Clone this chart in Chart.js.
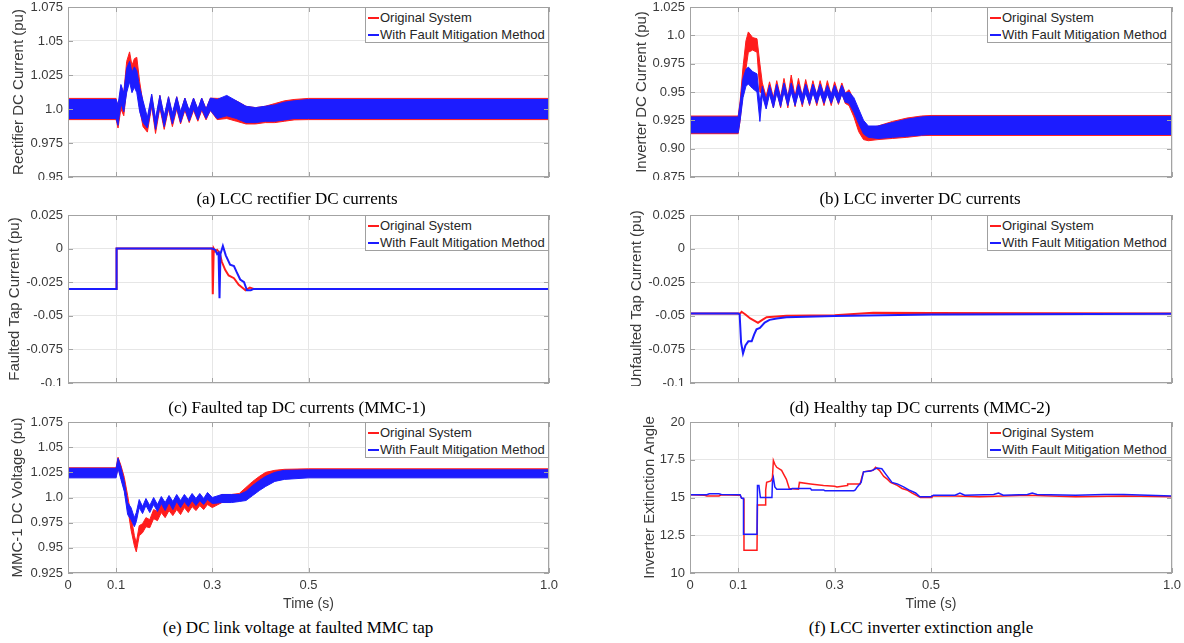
<!DOCTYPE html>
<html>
<head>
<meta charset="utf-8">
<script src="https://cdn.jsdelivr.net/npm/chart.js@4.4.1/dist/chart.umd.min.js"></script>
<style>
  body { margin: 0; background: #fff; width: 1184px; height: 643px; overflow: hidden; position: relative; }
  .chart { position: absolute; }
  .cap { position: absolute; text-align: center; font-family: 'Liberation Serif', 'Times New Roman', serif; font-size: 17px; line-height: 20px; color: #000; }
  .legend { position: absolute; box-sizing: border-box; height: 36px; border: 1px solid #a0a0a0; background: #fff;
            font-family: 'Liberation Sans', Arial, sans-serif; font-size: 13px; color: #262626; padding-top: 1px; z-index: 2; }
  .legend div { height: 17px; line-height: 17px; white-space: nowrap; }
  .legend span { display: inline-block; width: 11px; height: 2px; vertical-align: middle; margin: 0 1px 2px 2px; }
</style>
</head>
<body>
<div class="chart" style="left:0px;top:0px"><canvas id="chartA" width="562" height="180"></canvas></div>
<div class="chart" style="left:622px;top:0px"><canvas id="chartB" width="562" height="180"></canvas></div>
<div class="chart" style="left:0px;top:208px"><canvas id="chartC" width="562" height="178"></canvas></div>
<div class="chart" style="left:622px;top:208px"><canvas id="chartD" width="562" height="178"></canvas></div>
<div class="chart" style="left:0px;top:415px"><canvas id="chartE" width="562" height="202"></canvas></div>
<div class="chart" style="left:622px;top:415px"><canvas id="chartF" width="562" height="202"></canvas></div>

<div class="cap" style="left:57px;top:189px;width:480px">(a) LCC rectifier DC currents</div>
<div class="cap" style="left:680px;top:189px;width:480px">(b) LCC inverter DC currents</div>
<div class="cap" style="left:57px;top:398px;width:480px">(c) Faulted tap DC currents (MMC-1)</div>
<div class="cap" style="left:680px;top:398px;width:480px">(d) Healthy tap DC currents (MMC-2)</div>
<div class="cap" style="left:58px;top:618px;width:480px">(e) DC link voltage at faulted MMC tap</div>
<div class="cap" style="left:681px;top:618px;width:480px">(f) LCC inverter extinction angle</div>

<script>
const seriesNames = ['Original System', 'With Fault Mitigation Method'];
const xTicks = [0, 0.1, 0.3, 0.5, 1.0];
const xTickLabels = ['0', '0.1', '0.3', '0.5', '1.0'];

// (a) rectifier DC current, ripple band read as upper / lower edge
const yTicksA = [0.95, 0.975, 1.0, 1.025, 1.05, 1.075];
const yLabelsA = ['0.95', '0.975', '1.0', '1.025', '1.05', '1.075'];
const tA = [0, 0.1, 0.104, 0.11, 0.116, 0.122, 0.128, 0.133, 0.138, 0.143,
  0.149, 0.156, 0.165, 0.174, 0.182, 0.191, 0.2, 0.209, 0.217, 0.226,
  0.234, 0.243, 0.252, 0.261, 0.27, 0.278, 0.287, 0.296, 0.31, 0.33,
  0.35, 0.37, 0.39, 0.41, 0.43, 0.45, 0.47, 0.5, 1.0];
const aRedHi = [1.0078, 1.0078, 1.0, 1.015, 1.012, 1.035, 1.042, 1.032, 1.037, 1.038,
  1.02, 1.004, 0.991, 1.01, 0.99, 1.01, 0.993, 1.009, 0.995, 1.009,
  0.997, 1.008, 0.998, 1.008, 0.999, 1.008, 1.0, 1.008, 1.0078, 1.008,
  1.006, 1.002, 1.001, 1.002, 1.004, 1.006, 1.007, 1.0078, 1.0078];
const aRedLo = [0.9922, 0.9922, 0.986, 1.0, 0.995, 1.015, 1.025, 1.015, 1.018, 1.02,
  1.0, 0.987, 0.983, 1.002, 0.982, 1.001, 0.985, 1.0, 0.987, 1.0,
  0.989, 0.999, 0.99, 0.999, 0.991, 0.999, 0.992, 0.999, 0.9922, 0.993,
  0.991, 0.989, 0.989, 0.99, 0.99, 0.991, 0.992, 0.9922, 0.9922];
const aBlueHi = [1.007, 1.007, 1.003, 1.018, 1.012, 1.03, 1.035, 1.027, 1.031, 1.028,
  1.016, 1.006, 0.994, 1.011, 0.993, 1.010, 0.995, 1.009, 0.997, 1.009,
  0.998, 1.008, 0.999, 1.008, 1.0, 1.008, 1.0, 1.008, 1.007, 1.01,
  1.006, 1.002, 1.001, 1.002, 1.003, 1.005, 1.006, 1.007, 1.007];
const aBlueLo = [0.993, 0.993, 0.988, 1.004, 0.998, 1.012, 1.02, 1.012, 1.016, 1.012,
  0.998, 0.99, 0.986, 1.003, 0.985, 1.002, 0.987, 1.001, 0.989, 1.001,
  0.99, 1.0, 0.991, 1.0, 0.992, 1.0, 0.993, 0.999, 0.993, 0.995,
  0.993, 0.99, 0.99, 0.991, 0.991, 0.992, 0.993, 0.993, 0.993];

// (b) inverter DC current
const yTicksB = [0.875, 0.9, 0.925, 0.95, 0.975, 1.0, 1.025];
const yLabelsB = ['0.875', '0.90', '0.925', '0.95', '0.975', '1.0', '1.025'];
const tB = [0, 0.1, 0.104, 0.11, 0.116, 0.121, 0.13, 0.139, 0.145,
  0.15, 0.158, 0.165, 0.173, 0.18, 0.188, 0.195, 0.203, 0.21, 0.218, 0.225, 0.233,
  0.24, 0.248, 0.255, 0.263, 0.27, 0.278, 0.285, 0.293, 0.3, 0.308, 0.315, 0.322,
  0.33, 0.34, 0.35, 0.36, 0.37, 0.39, 0.42, 0.45, 0.48, 0.5, 1.0];
const bRedHi = [0.9288, 0.9288, 0.942, 0.972, 0.995, 1.003, 0.998, 0.997, 0.975,
  0.958, 0.946, 0.959, 0.945, 0.96, 0.945, 0.962, 0.945, 0.965, 0.946, 0.962, 0.946,
  0.961, 0.947, 0.96, 0.947, 0.96, 0.947, 0.96, 0.947, 0.959, 0.948, 0.958, 0.949,
  0.952, 0.943, 0.932, 0.92, 0.918, 0.92, 0.924, 0.927, 0.9288, 0.9293, 0.9293];
const bRedLo = [0.9132, 0.9132, 0.925, 0.95, 0.97, 0.985, 0.987, 0.985, 0.95,
  0.949, 0.937, 0.95, 0.936, 0.951, 0.936, 0.953, 0.936, 0.956, 0.937, 0.953, 0.937,
  0.952, 0.938, 0.951, 0.938, 0.951, 0.938, 0.951, 0.938, 0.95, 0.939, 0.949, 0.94,
  0.938, 0.928, 0.915, 0.908, 0.907, 0.908, 0.909, 0.91, 0.9115, 0.9117, 0.9117];
const bBlueHi = [0.928, 0.928, 0.94, 0.962, 0.97, 0.972, 0.968, 0.966, 0.94,
  0.955, 0.943, 0.956, 0.944, 0.957, 0.945, 0.958, 0.946, 0.958, 0.946, 0.957, 0.947,
  0.957, 0.947, 0.957, 0.948, 0.957, 0.948, 0.956, 0.948, 0.956, 0.948, 0.956, 0.949,
  0.95, 0.945, 0.935, 0.925, 0.92, 0.92, 0.923, 0.926, 0.928, 0.9285, 0.9285];
const bBlueLo = [0.914, 0.914, 0.925, 0.945, 0.955, 0.957, 0.953, 0.95, 0.924,
  0.947, 0.935, 0.948, 0.936, 0.949, 0.937, 0.95, 0.938, 0.95, 0.938, 0.949, 0.939,
  0.949, 0.939, 0.949, 0.94, 0.949, 0.94, 0.948, 0.94, 0.948, 0.94, 0.948, 0.941,
  0.94, 0.932, 0.922, 0.913, 0.91, 0.909, 0.91, 0.911, 0.912, 0.9125, 0.9125];

// (c) faulted tap current
const yTicksCD = [-0.1, -0.075, -0.05, -0.025, 0, 0.025];
const yLabelsCD = ['-0.1', '-0.075', '-0.05', '-0.025', '0', '0.025'];
const cRedT = [0, 0.1, 0.101, 0.3, 0.301, 0.303, 0.306, 0.31, 0.315, 0.32, 0.327, 0.334, 0.345, 0.355, 0.362, 0.369, 0.378, 0.386, 0.4, 1.0];
const cRedV = [-0.030, -0.030, 0, 0, -0.034, 0, -0.002, -0.001, -0.003, -0.010, -0.016, -0.020, -0.022, -0.027, -0.029, -0.031, -0.029, -0.030, -0.030, -0.030];
const cBlueT = [0, 0.1, 0.101, 0.3, 0.306, 0.31, 0.313, 0.315, 0.317, 0.322, 0.328, 0.337, 0.345, 0.35, 0.358, 0.366, 0.372, 0.38, 0.386, 0.4, 1.0];
const cBlueV = [-0.030, -0.030, 0, 0, -0.001, -0.004, -0.003, -0.037, -0.004, 0.002, -0.005, -0.012, -0.013, -0.017, -0.023, -0.025, -0.031, -0.031, -0.030, -0.030, -0.030];

// (d) unfaulted tap current
const dRedT = [0, 0.1, 0.104, 0.107, 0.115, 0.125, 0.135, 0.141, 0.15, 0.159, 0.18, 0.2, 0.3, 0.38, 0.5, 1.0];
const dRedV = [-0.0483, -0.0483, -0.0483, -0.047, -0.049, -0.052, -0.054, -0.0552, -0.053, -0.051, -0.0505, -0.05, -0.0495, -0.0478, -0.048, -0.0482];
const dBlueT = [0, 0.1, 0.103, 0.106, 0.11, 0.115, 0.121, 0.128, 0.133, 0.138, 0.145, 0.155, 0.165, 0.18, 0.2, 0.3, 0.5, 1.0];
const dBlueV = [-0.0483, -0.0483, -0.049, -0.07, -0.078, -0.072, -0.069, -0.069, -0.064, -0.06, -0.059, -0.055, -0.053, -0.052, -0.051, -0.0502, -0.049, -0.0485];

// (e) MMC-1 DC voltage
const yTicksE = [0.925, 0.95, 0.975, 1.0, 1.025, 1.05, 1.075];
const yLabelsE = ['0.925', '0.95', '0.975', '1.0', '1.025', '1.05', '1.075'];
const tE = [0, 0.1, 0.104, 0.11, 0.117, 0.124, 0.131, 0.138, 0.142,
  0.148, 0.155, 0.162, 0.17, 0.178, 0.186, 0.194, 0.202, 0.21, 0.218,
  0.226, 0.234, 0.242, 0.25, 0.258, 0.266, 0.274, 0.282, 0.29, 0.3,
  0.32, 0.34, 0.356, 0.37, 0.384, 0.398, 0.411, 0.43, 0.45, 0.5, 1.0];
const eRedHi = [1.0295, 1.0295, 1.04, 1.032, 1.02, 1.002, 0.982, 0.962, 0.955,
  0.972, 0.974, 0.98, 0.978, 0.988, 0.986, 0.994, 0.989, 0.996, 0.99,
  0.997, 0.991, 0.998, 0.992, 0.999, 0.994, 1.0, 0.995, 1.001, 0.997,
  1.003, 1.003, 1.004, 1.01, 1.016, 1.021, 1.025, 1.027, 1.028, 1.0285, 1.0285];
const eRedLo = [1.0205, 1.0205, 1.03, 1.02, 1.008, 0.99, 0.968, 0.952, 0.946,
  0.962, 0.965, 0.971, 0.97, 0.979, 0.977, 0.985, 0.98, 0.987, 0.982,
  0.988, 0.983, 0.99, 0.985, 0.991, 0.987, 0.992, 0.988, 0.993, 0.99,
  0.995, 0.996, 0.997, 1.0, 1.006, 1.011, 1.015, 1.018, 1.0195, 1.0205, 1.0205];
const eBlueHi = [1.029, 1.029, 1.039, 1.03, 1.016, 0.995, 0.99, 0.98, 0.985,
  0.998, 0.991, 0.999, 0.992, 1.0, 0.993, 1.001, 0.995, 1.002, 0.996,
  1.003, 0.997, 1.003, 0.998, 1.004, 0.999, 1.004, 0.999, 1.005, 1.0,
  1.003, 1.003, 1.003, 1.006, 1.012, 1.017, 1.021, 1.025, 1.027, 1.0275, 1.0275];
const eBlueLo = [1.0195, 1.0195, 1.029, 1.018, 1.006, 0.983, 0.978, 0.971, 0.976,
  0.99, 0.984, 0.992, 0.985, 0.993, 0.986, 0.994, 0.987, 0.995, 0.988,
  0.996, 0.99, 0.996, 0.991, 0.997, 0.992, 0.997, 0.993, 0.998, 0.994,
  0.995, 0.995, 0.996, 0.997, 1.002, 1.007, 1.011, 1.016, 1.018, 1.0195, 1.0195];

// (f) inverter extinction angle (deg)
const yTicksF = [10, 12.5, 15, 17.5, 20];
const yLabelsF = ['10', '12.5', '15', '17.5', '20'];
const fRedT = [0, 0.03, 0.035, 0.06, 0.065, 0.104, 0.107, 0.112, 0.112, 0.139, 0.14, 0.156, 0.157, 0.159, 0.168, 0.171,
  0.173, 0.176, 0.18, 0.19, 0.195, 0.2, 0.206, 0.225, 0.227, 0.25, 0.277, 0.3, 0.305, 0.326, 0.327, 0.353,
  0.357, 0.36, 0.38, 0.385, 0.393, 0.402, 0.41, 0.416, 0.43, 0.44, 0.45, 0.46, 0.478, 0.5, 0.502, 0.55,
  0.6, 0.65, 0.7, 0.75, 0.8, 0.9, 1.0];
const fRedV = [15.18, 15.15, 15.1, 15.1, 15.18, 15.15, 14.95, 14.9, 11.5, 11.5, 14.5, 14.5, 15.5, 16.0, 16.1, 16.3,
  17.45, 17.2, 17.0, 16.8, 16.5, 16.2, 15.6, 15.55, 16.0, 15.9, 15.8, 15.75, 15.7, 15.8, 15.9, 15.9,
  16.4, 16.7, 16.8, 17.0, 16.8, 16.4, 16.2, 16.0, 15.8, 15.6, 15.5, 15.3, 15.0, 15.0, 15.1, 15.1,
  15.05, 15.1, 15.15, 15.1, 15.05, 15.1, 15.05];
const fBlueT = [0, 0.035, 0.04, 0.06, 0.065, 0.104, 0.107, 0.111, 0.111, 0.139, 0.14, 0.143, 0.146, 0.17, 0.171, 0.173,
  0.176, 0.18, 0.21, 0.212, 0.25, 0.252, 0.277, 0.28, 0.34, 0.343, 0.347, 0.355, 0.36, 0.375, 0.388, 0.398,
  0.405, 0.412, 0.419, 0.43, 0.443, 0.454, 0.468, 0.477, 0.5, 0.505, 0.55, 0.56, 0.57, 0.63, 0.64, 0.65,
  0.7, 0.71, 0.72, 0.8, 0.86, 0.9, 0.95, 1.0];
const fBlueV = [15.18, 15.18, 15.25, 15.25, 15.2, 15.18, 14.95, 14.95, 12.56, 12.56, 15.8, 15.8, 15.0, 15.0, 16.0, 16.3,
  15.7, 15.55, 15.55, 15.6, 15.6, 15.5, 15.5, 15.45, 15.45, 15.5, 15.7, 16.0, 16.7, 16.75, 16.95, 16.9,
  16.6, 16.3, 16.0, 15.9, 15.7, 15.5, 15.3, 15.05, 15.05, 15.15, 15.15, 15.3, 15.15, 15.2, 15.3, 15.15,
  15.2, 15.3, 15.2, 15.15, 15.2, 15.2, 15.15, 15.1];

const red = '#ff1c1c';
const blue = '#1c1cff';
const textColor = '#3a3a3a';
const gridColor = '#e6e6e6';
const boxColor = '#a3a3a3';
const sansFont = "'Liberation Sans', Arial, Helvetica, sans-serif";

function pts(t, v) {
  return t.map((x, i) => ({ x: x, y: v[i] }));
}

// ripple bands: upper edge, then lower edge filled up to it; blue drawn over red
function bandSets(t, redHi, redLo, blueHi, blueLo) {
  const edge = (vals, color, fill) => ({
    data: pts(t, vals), borderColor: color, backgroundColor: color,
    borderWidth: 1, pointRadius: 0, fill: fill
  });
  return [edge(blueHi, blue, false), edge(blueLo, blue, '-1'),
          edge(redHi, red, false), edge(redLo, red, '-1')];
}

function lineSets(redT, redV, blueT, blueV, width) {
  return [
    { data: pts(blueT, blueV), borderColor: blue, borderWidth: width, pointRadius: 0, fill: false },
    { data: pts(redT, redV), borderColor: red, borderWidth: width, pointRadius: 0, fill: false }
  ];
}

// MATLAB style box with inward tick marks
const boxPlugin = {
  id: 'box',
  afterDraw(chart) {
    const ctx = chart.ctx;
    const a = chart.chartArea;
    const xs = chart.scales.x, ys = chart.scales.y;
    ctx.save();
    ctx.strokeStyle = boxColor;
    ctx.lineWidth = 1;
    ctx.strokeRect(a.left + 0.5, a.top + 0.5, a.right - a.left - 1, a.bottom - a.top - 1);
    ctx.beginPath();
    xs.ticks.forEach(t => {
      const px = Math.round(xs.getPixelForValue(t.value)) + 0.5;
      ctx.moveTo(px, a.top); ctx.lineTo(px, a.top + 5);
      ctx.moveTo(px, a.bottom); ctx.lineTo(px, a.bottom - 5);
    });
    ys.ticks.forEach(t => {
      const py = Math.round(ys.getPixelForValue(t.value)) + 0.5;
      ctx.moveTo(a.left, py); ctx.lineTo(a.left + 5, py);
      ctx.moveTo(a.right, py); ctx.lineTo(a.right - 5, py);
    });
    ctx.stroke();
    ctx.restore();
  }
};

function createPanel(id, datasets, yTicks, yLabels, yTitle, titlePad, showX, padRight) {
  const ctx = document.getElementById(id).getContext('2d');
  return new Chart(ctx, {
    type: 'line',
    data: { datasets: datasets },
    options: {
      responsive: false,
      animation: false,
      events: [],
      layout: { padding: { top: 7, right: padRight, left: 0, bottom: 0 } },
      plugins: { legend: { display: false }, tooltip: { enabled: false } },
      scales: {
        x: {
          type: 'linear', min: 0, max: 1,
          afterBuildTicks: s => { s.ticks = xTicks.map(v => ({ value: v })); },
          afterFit: s => { s.height = showX ? 44 : 3; s.paddingLeft = 0; s.paddingRight = 0; },
          grid: { color: gridColor, drawTicks: false },
          border: { display: false },
          ticks: {
            display: showX, padding: 5, color: textColor, autoSkip: false, maxRotation: 0,
            font: { family: sansFont, size: 13 },
            callback: (v, i) => xTickLabels[i]
          },
          title: {
            display: showX, text: 'Time (s)', color: textColor,
            font: { family: sansFont, size: 14 }, padding: { top: 4, bottom: 4 }
          }
        },
        y: {
          min: yTicks[0], max: yTicks[yTicks.length - 1],
          afterBuildTicks: s => { s.ticks = yTicks.map(v => ({ value: v })); },
          afterFit: s => { s.width = 68; s.paddingTop = 0; s.paddingBottom = 0; },
          grid: { color: gridColor, drawTicks: false },
          border: { display: false },
          ticks: {
            padding: 5, color: textColor, autoSkip: false,
            font: { family: sansFont, size: 13 },
            callback: (v, i) => yLabels[i]
          },
          title: {
            display: true, text: yTitle, color: textColor,
            font: { family: sansFont, size: 15 }, padding: { top: titlePad, bottom: 0 }
          }
        }
      }
    },
    plugins: [boxPlugin]
  });
}

function addLegend(left, top, width) {
  const box = document.createElement('div');
  box.className = 'legend';
  box.style.left = left + 'px';
  box.style.top = top + 'px';
  box.style.width = width + 'px';
  [red, blue].forEach((c, i) => {
    const row = document.createElement('div');
    const mark = document.createElement('span');
    mark.style.backgroundColor = c;
    row.appendChild(mark);
    row.appendChild(document.createTextNode(seriesNames[i]));
    box.appendChild(row);
  });
  document.body.appendChild(box);
}

createPanel('chartA', bandSets(tA, aRedHi, aRedLo, aBlueHi, aBlueLo), yTicksA, yLabelsA,
  'Rectifier DC Current (pu)', 10, false, 13);
createPanel('chartB', bandSets(tB, bRedHi, bRedLo, bBlueHi, bBlueLo), yTicksB, yLabelsB,
  'Inverter DC Current (pu)', 11, false, 12);
createPanel('chartC', lineSets(cRedT, cRedV, cBlueT, cBlueV, 2), yTicksCD, yLabelsCD,
  'Faulted Tap Current (pu)', 6, false, 13);
createPanel('chartD', lineSets(dRedT, dRedV, dBlueT, dBlueV, 2), yTicksCD, yLabelsCD,
  'Unfaulted Tap Current (pu)', 6, false, 12);
createPanel('chartE', bandSets(tE, eRedHi, eRedLo, eBlueHi, eBlueLo), yTicksE, yLabelsE,
  'MMC-1 DC Voltage (pu)', 9, true, 13);
createPanel('chartF', lineSets(fRedT, fRedV, fBlueT, fBlueV, 1.5), yTicksF, yLabelsF,
  'Inverter Extinction Angle', 19, true, 12);

addLegend(365, 7, 184);
addLegend(987, 7, 185);
addLegend(365, 215, 184);
addLegend(987, 215, 185);
addLegend(365, 422, 184);
addLegend(987, 422, 185);
</script>
</body>
</html>
